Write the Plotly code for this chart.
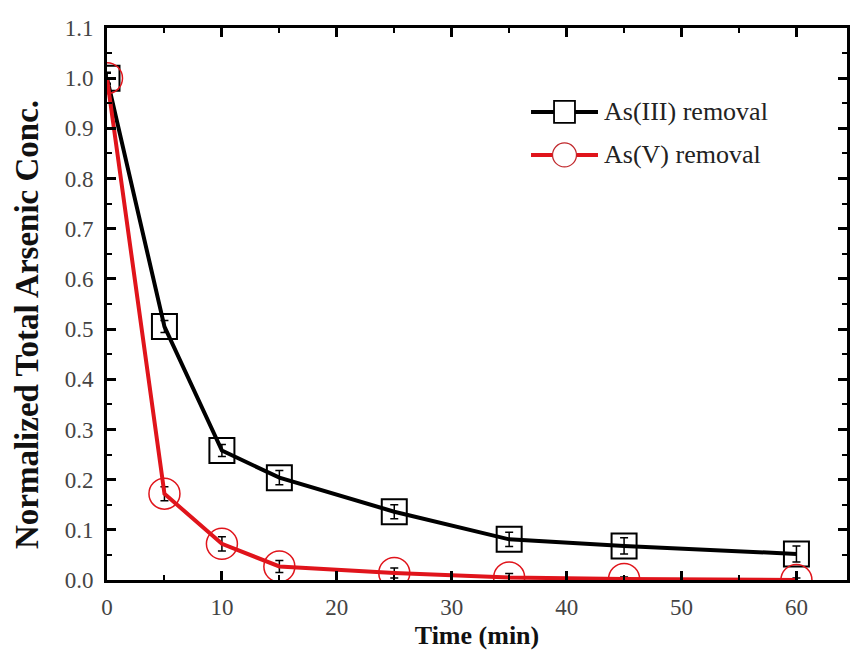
import plotly.graph_objects as go

# Sampling times (min)
time_min = [0, 5, 10, 15, 25, 35, 45, 60]

# Normalized total arsenic concentration (C/C0)
as3_conc = [1.0, 0.505, 0.258, 0.204, 0.136, 0.081, 0.068, 0.052]
as3_err = [0.012, 0.012, 0.012, 0.014, 0.014, 0.014, 0.016, 0.016]

as5_conc = [1.0, 0.172, 0.072, 0.027, 0.014, 0.005, 0.002, 0.0]
as5_err = [0.01, 0.014, 0.014, 0.012, 0.01, 0.008, 0.004, 0.004]

series_names = ["As(III) removal", "As(V) removal"]
series_colors = ["black", "#e0141b"]

serif = "Liberation Serif, Times New Roman, serif"

fig = go.Figure()

fig.add_trace(go.Scatter(
    x=time_min, y=as3_conc, name=series_names[0], showlegend=False,
    mode="lines+markers",
    line=dict(color=series_colors[0], width=4),
    marker=dict(symbol="square-open", size=25, color=series_colors[0], line=dict(width=2)),
    error_y=dict(type="data", array=as3_err, color="black", thickness=1.5, width=4),
))
fig.add_trace(go.Scatter(
    x=time_min, y=as5_conc, name=series_names[1], showlegend=False,
    mode="lines+markers",
    line=dict(color=series_colors[1], width=4),
    marker=dict(symbol="circle-open", size=31, color=series_colors[1], line=dict(width=1.5)),
    error_y=dict(type="data", array=as5_err, color="black", thickness=1.5, width=4),
))

# Legend: line-marker-line keys with labels, placed in the upper right
legend_x0, legend_x1 = 0.573, 0.6635     # paper fraction of the key line
legend_rows = [0.848, 0.770]            # paper y of each row
for name, color, ly, shape in zip(series_names, series_colors, legend_rows,
                                  ["rect", "circle"]):
    fig.add_shape(type="line", xref="paper", yref="paper",
                  x0=legend_x0, x1=legend_x1, y0=ly, y1=ly,
                  line=dict(color=color, width=4))
    xc = (legend_x0 + legend_x1) / 2
    hw = 10.5 / 743 if shape == "rect" else 12 / 743
    hh = 11 / 552 if shape == "rect" else 12 / 552
    fig.add_shape(type=shape, xref="paper", yref="paper",
                  x0=xc - hw, x1=xc + hw, y0=ly - hh, y1=ly + hh,
                  fillcolor="white",
                  line=dict(color="black" if shape == "rect" else "#c0282c",
                            width=1.8 if shape == "rect" else 1.2))
    fig.add_annotation(x=legend_x1 + 0.006, y=ly, xref="paper", yref="paper",
                       xanchor="left", yanchor="middle", showarrow=False,
                       text=name, font=dict(family=serif, size=26, color="#222222"))

# Y-axis title, set slightly below the plot's vertical centre
fig.add_annotation(x=-0.108, y=0.462, xref="paper", yref="paper",
                   xanchor="center", yanchor="middle", showarrow=False,
                   textangle=-90, text="<b>Normalized Total Arsenic Conc.</b>",
                   font=dict(family=serif, size=33, color="#111111"))

axis_common = dict(
    showline=True, linecolor="black", linewidth=3, mirror="ticks",
    ticks="inside", ticklen=9, tickwidth=2.5, tickcolor="black",
    showgrid=False, zeroline=False,
    tickfont=dict(family=serif, size=23, color="#444444"),
)

fig.update_xaxes(
    range=[0, 64.4], tick0=0, dtick=10,
    minor=dict(ticks="inside", ticklen=5, tickwidth=2, dtick=5, tickcolor="black"),
    title=dict(text="<b>Time (min)</b>", font=dict(family=serif, size=26, color="#111111"),
               standoff=8),
    ticklabelstandoff=4,
    **axis_common,
)
fig.update_yaxes(
    range=[0, 1.1], tick0=0, dtick=0.1, tickformat=".1f",
    minor=dict(ticks="inside", ticklen=5, tickwidth=2, dtick=0.05, tickcolor="black"),
    ticklabelstandoff=6,
    **axis_common,
)

fig.update_layout(
    width=850, height=666,
    margin=dict(l=107, r=0, t=28, b=86),
    paper_bgcolor="white", plot_bgcolor="white",
    showlegend=False,
)

fig.write_html("out.html")
